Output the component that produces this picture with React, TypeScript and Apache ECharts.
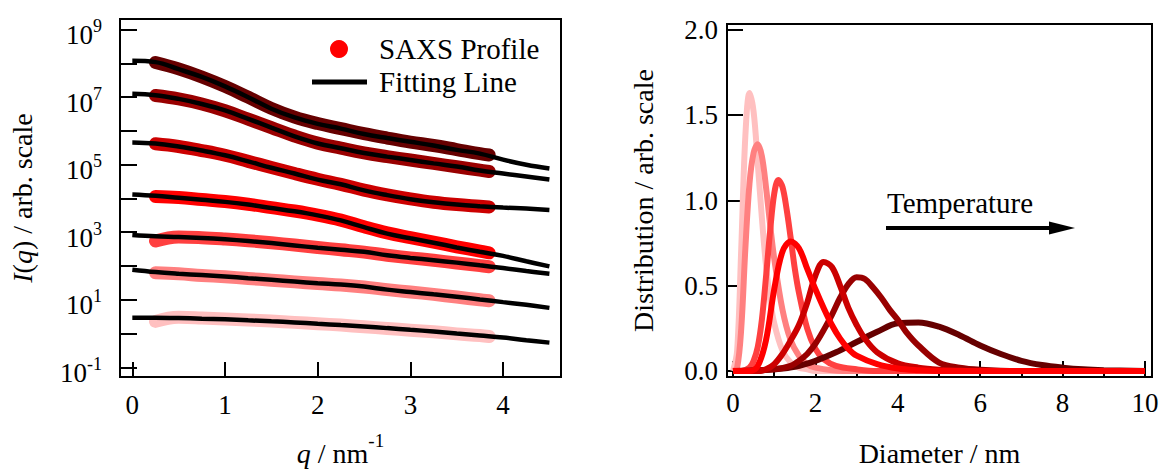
import React, { useEffect, useRef } from "react";
import * as echarts from "echarts";

const FONT = "'Liberation Serif', 'Times New Roman', Times, serif";

// ---------- Left panel: SAXS profiles (values are log10 I(q)) ----------
const qFit = [0, 0.25, 0.5, 0.75, 1.0, 1.25, 1.5, 1.75, 2.0, 2.25, 2.5, 2.75, 3.0, 3.25, 3.5, 3.75, 4.0, 4.25, 4.5];
const fitLogA = [8.08, 8.04, 7.83, 7.6, 7.32, 7.0, 6.66, 6.4, 6.21, 6.07, 5.91, 5.79, 5.68, 5.57, 5.44, 5.33, 5.15, 5.0, 4.89];
const fitLogB = [7.1, 7.06, 6.95, 6.8, 6.61, 6.36, 6.1, 5.84, 5.63, 5.49, 5.35, 5.24, 5.14, 5.04, 4.95, 4.83, 4.74, 4.65, 4.56];
const fitLogC = [5.66, 5.63, 5.54, 5.42, 5.28, 5.1, 4.91, 4.74, 4.56, 4.42, 4.24, 4.1, 3.98, 3.89, 3.82, 3.77, 3.73, 3.7, 3.66];
const fitLogD = [4.12, 4.08, 4.02, 3.96, 3.9, 3.82, 3.72, 3.62, 3.5, 3.35, 3.15, 2.96, 2.82, 2.69, 2.55, 2.42, 2.3, 2.14, 1.99];
const fitLogE = [2.92, 2.88, 2.86, 2.83, 2.79, 2.74, 2.68, 2.61, 2.54, 2.48, 2.42, 2.32, 2.24, 2.17, 2.1, 2.02, 1.94, 1.85, 1.77];
const fitLogF = [1.89, 1.82, 1.77, 1.73, 1.69, 1.64, 1.59, 1.54, 1.49, 1.45, 1.39, 1.3, 1.23, 1.16, 1.09, 1.01, 0.93, 0.85, 0.76];
const fitLogG = [0.47, 0.47, 0.46, 0.44, 0.42, 0.39, 0.36, 0.33, 0.29, 0.25, 0.21, 0.16, 0.11, 0.06, 0.0, -0.06, -0.12, -0.2, -0.27];

const qData = [0.25, 0.5, 0.75, 1.0, 1.25, 1.5, 1.75, 2.0, 2.25, 2.5, 2.75, 3.0, 3.25, 3.5, 3.75, 3.85];
const dataLogA = [8.03, 7.84, 7.6, 7.32, 7.0, 6.67, 6.41, 6.22, 6.07, 5.92, 5.79, 5.67, 5.57, 5.45, 5.33, 5.29];
const dataLogB = [7.05, 6.95, 6.8, 6.6, 6.35, 6.1, 5.85, 5.64, 5.49, 5.35, 5.24, 5.14, 5.04, 4.94, 4.84, 4.8];
const dataLogC = [5.62, 5.54, 5.42, 5.28, 5.1, 4.92, 4.74, 4.57, 4.42, 4.25, 4.11, 3.99, 3.89, 3.82, 3.77, 3.75];
const dataLogD = [4.06, 4.03, 3.97, 3.91, 3.83, 3.73, 3.63, 3.51, 3.36, 3.16, 2.98, 2.84, 2.71, 2.57, 2.44, 2.39];
const dataLogE = [2.74, 2.86, 2.84, 2.8, 2.75, 2.69, 2.62, 2.55, 2.48, 2.41, 2.32, 2.24, 2.17, 2.09, 2.01, 1.98];
const dataLogF = [1.8, 1.77, 1.72, 1.68, 1.63, 1.58, 1.53, 1.48, 1.44, 1.38, 1.3, 1.23, 1.16, 1.08, 1.0, 0.97];
const dataLogG = [0.36, 0.48, 0.46, 0.43, 0.4, 0.37, 0.33, 0.29, 0.25, 0.2, 0.15, 0.1, 0.05, -0.01, -0.06, -0.09];

const saxsColors = ["#660000", "#990000", "#cc0000", "#ff0000", "#ff4040", "#ff8080", "#ffc0c0"];
const fitSets = [fitLogA, fitLogB, fitLogC, fitLogD, fitLogE, fitLogF, fitLogG];
const dataSets = [dataLogA, dataLogB, dataLogC, dataLogD, dataLogE, dataLogF, dataLogG];

const leftYTicks = [-1, 0, 1, 2, 3, 4, 5, 6, 7, 8, 9];
const leftYLabels = [-1, 1, 3, 5, 7, 9];
const leftXTicks = [0, 1, 2, 3, 4];

// ---------- Right panel: size distributions ----------
const diam1 = [0, 0.1, 0.2, 0.3, 0.4, 0.5, 0.6, 0.7, 0.8, 0.9, 1.0, 1.2, 1.4, 1.6, 1.8, 2.0, 2.5, 3, 10];
const dist1 = [0, 0.12, 0.72, 1.38, 1.63, 1.52, 1.22, 0.9, 0.62, 0.42, 0.28, 0.12, 0.05, 0.02, 0.01, 0, 0, 0, 0];
const diam2 = [0, 0.1, 0.2, 0.3, 0.4, 0.5, 0.6, 0.7, 0.8, 0.9, 1.0, 1.2, 1.4, 1.6, 1.8, 2.0, 2.4, 3, 10];
const dist2 = [0, 0.02, 0.25, 0.72, 1.1, 1.28, 1.33, 1.26, 1.08, 0.86, 0.66, 0.36, 0.18, 0.09, 0.04, 0.02, 0.005, 0, 0];
const diam3 = [0, 0.2, 0.4, 0.5, 0.6, 0.7, 0.8, 0.9, 1.0, 1.1, 1.2, 1.3, 1.4, 1.5, 1.6, 1.8, 2.0, 2.2, 2.5, 3, 3.5, 10];
const dist3 = [0, 0, 0.02, 0.06, 0.14, 0.3, 0.55, 0.82, 1.04, 1.12, 1.08, 0.95, 0.78, 0.6, 0.46, 0.25, 0.13, 0.07, 0.03, 0.01, 0, 0];
const diam4 = [0, 0.4, 0.6, 0.8, 1.0, 1.2, 1.4, 1.6, 1.8, 2.0, 2.2, 2.4, 2.6, 2.8, 3.0, 3.5, 4, 4.5, 5, 10];
const dist4 = [0, 0, 0.03, 0.18, 0.48, 0.7, 0.76, 0.72, 0.6, 0.48, 0.37, 0.27, 0.19, 0.13, 0.09, 0.04, 0.015, 0.005, 0, 0];
const diam5 = [0, 0.6, 0.8, 1.0, 1.2, 1.4, 1.6, 1.8, 2.0, 2.2, 2.4, 2.6, 2.8, 3.0, 3.2, 3.5, 4, 4.5, 5, 5.5, 6, 10];
const dist5 = [0, 0, 0.01, 0.04, 0.1, 0.18, 0.27, 0.4, 0.56, 0.64, 0.61, 0.5, 0.37, 0.27, 0.19, 0.11, 0.045, 0.02, 0.008, 0.003, 0, 0];
const diam6 = [0, 1.0, 1.4, 1.6, 1.8, 2.0, 2.2, 2.4, 2.6, 2.8, 3.0, 3.2, 3.4, 3.6, 3.8, 4.0, 4.2, 4.5, 5.0, 5.5, 6, 7, 10];
const dist6 = [0, 0.01, 0.03, 0.06, 0.1, 0.16, 0.24, 0.33, 0.43, 0.51, 0.55, 0.54, 0.49, 0.43, 0.36, 0.3, 0.23, 0.15, 0.05, 0.02, 0.008, 0, 0];
const diam7 = [0, 0.5, 1.0, 1.5, 2.0, 2.5, 3.0, 3.5, 4.0, 4.5, 5.0, 5.5, 6.0, 6.5, 7.0, 7.5, 8.0, 8.5, 9, 10];
const dist7 = [0, 0.002, 0.01, 0.025, 0.06, 0.11, 0.17, 0.23, 0.28, 0.285, 0.26, 0.21, 0.15, 0.1, 0.06, 0.035, 0.02, 0.01, 0.005, 0];

const distColors = ["#ffc0c0", "#ff8080", "#ff4040", "#ff0000", "#cc0000", "#990000", "#660000"];
const distX = [diam1, diam2, diam3, diam4, diam5, diam6, diam7];
const distY = [dist1, dist2, dist3, dist4, dist5, dist6, dist7];
const drawOrder = [0, 1, 2, 6, 5, 4, 3];

const rightXMajor = [0, 2, 4, 6, 8, 10];
const rightXMinor = [1, 3, 5, 7, 9];
const rightYTicks = [0, 0.5, 1.0, 1.5, 2.0];

export default function App() {
  const ref = useRef<HTMLDivElement | null>(null);

  useEffect(() => {
    if (!ref.current) return;
    const chart = echarts.init(ref.current, null, { renderer: "svg" });

    const tickLabel = { fontFamily: FONT, fontSize: 27, color: "#000" };
    const titleStyle = { fontFamily: FONT, fontSize: 28, color: "#000" };
    const noLine = { show: false, onZero: false };

    const series: any[] = [];
    dataSets.forEach((d, i) => {
      series.push({
        type: "line",
        name: "SAXS Profile",
        xAxisIndex: 0,
        yAxisIndex: 0,
        data: qData.map((q, j) => [q, d[j]]),
        smooth: 0.4,
        symbol: "none",
        lineStyle: { color: saxsColors[i], width: 13, cap: "round", join: "round" },
        z: 2,
      });
    });
    fitSets.forEach((d) => {
      series.push({
        type: "line",
        name: "Fitting Line",
        xAxisIndex: 0,
        yAxisIndex: 0,
        data: qFit.map((q, j) => [q, d[j]]),
        smooth: 0.4,
        symbol: "none",
        lineStyle: { color: "#000", width: 4.5 },
        z: 3,
      });
    });
    drawOrder.forEach((i) => {
      series.push({
        type: "line",
        name: "Distribution " + (i + 1),
        xAxisIndex: 1,
        yAxisIndex: 1,
        data: distX[i].map((x, j) => [x, distY[i][j]]),
        smooth: 0.35,
        symbol: "none",
        lineStyle: { color: distColors[i], width: 6 },
        z: 2,
      });
    });

    const option: any = {
      animation: false,
      grid: [
        { left: 120, top: 19, width: 441, height: 368, show: true, borderColor: "#000", borderWidth: 2, backgroundColor: "transparent" },
        { left: 727, top: 24, width: 425, height: 356, show: true, borderColor: "#000", borderWidth: 2, backgroundColor: "transparent" },
      ],
      xAxis: [
        {
          gridIndex: 0,
          type: "value",
          position: "bottom",
          min: -0.133,
          max: 4.625,
          axisLine: noLine,
          splitLine: { show: false },
          axisTick: { inside: true, length: 15, lineStyle: { color: "#000", width: 2 }, customValues: leftXTicks },
          axisLabel: { ...tickLabel, margin: 14, customValues: leftXTicks },
          name: "{i|q}{n| / nm}{s|-1}",
          nameLocation: "middle",
          nameGap: 50,
          nameTextStyle: {
            ...titleStyle,
            rich: {
              i: { ...titleStyle, fontStyle: "italic", lineHeight: 40, verticalAlign: "bottom" },
              n: { ...titleStyle, lineHeight: 40, verticalAlign: "bottom" },
              s: { fontFamily: FONT, fontSize: 19, color: "#000", lineHeight: 40, verticalAlign: "top", padding: [4, 0, 0, 0] },
            },
          },
        },
        {
          gridIndex: 1,
          type: "value",
          position: "bottom",
          min: -0.146,
          max: 10.17,
          axisLine: noLine,
          splitLine: { show: false },
          axisTick: { inside: true, length: 16, lineStyle: { color: "#000", width: 2 }, customValues: rightXMajor },
          axisLabel: { ...tickLabel, margin: 12, customValues: rightXMajor },
          name: "Diameter / nm",
          nameLocation: "middle",
          nameGap: 62,
          nameTextStyle: titleStyle,
        },
        {
          gridIndex: 1,
          type: "value",
          position: "bottom",
          min: -0.146,
          max: 10.17,
          axisLine: noLine,
          splitLine: { show: false },
          axisTick: { inside: true, length: 6, lineStyle: { color: "#000", width: 2 }, customValues: rightXMinor },
          axisLabel: { show: false },
        },
      ],
      yAxis: [
        {
          gridIndex: 0,
          type: "value",
          position: "left",
          min: -1.288,
          max: 9.317,
          axisLine: noLine,
          splitLine: { show: false },
          axisTick: { inside: true, length: 17, lineStyle: { color: "#000", width: 2 }, customValues: leftYTicks },
          axisLabel: {
            margin: 18,
            customValues: leftYLabels,
            formatter: (v: number) => "{b|10}{s|" + Math.round(v) + "}",
            rich: {
              b: { fontFamily: FONT, fontSize: 27, color: "#000", lineHeight: 38, verticalAlign: "bottom" },
              s: { fontFamily: FONT, fontSize: 18, color: "#000", lineHeight: 38, verticalAlign: "middle", padding: [0, 0, 7, 0] },
            },
          },
          name: "{i|I}{n|(}{i|q}{n|) / arb. scale}",
          nameLocation: "middle",
          nameRotate: 90,
          nameGap: 84,
          nameTextStyle: {
            ...titleStyle,
            rich: {
              i: { ...titleStyle, fontStyle: "italic" },
              n: { ...titleStyle },
            },
          },
        },
        {
          gridIndex: 1,
          type: "value",
          position: "left",
          min: -0.0349,
          max: 2.0349,
          axisLine: noLine,
          splitLine: { show: false },
          axisTick: { inside: true, length: 16, lineStyle: { color: "#000", width: 2 }, customValues: rightYTicks },
          axisLabel: { ...tickLabel, margin: 9, customValues: rightYTicks, formatter: (v: number) => v.toFixed(1) },
          name: "Distribution / arb. scale",
          nameLocation: "middle",
          nameRotate: 90,
          nameGap: 70,
          nameTextStyle: titleStyle,
        },
      ],
      graphic: [
        { type: "circle", shape: { cx: 339, cy: 49, r: 9 }, style: { fill: "#ff0000" }, z: 10 },
        { type: "line", shape: { x1: 312, y1: 82, x2: 367, y2: 82 }, style: { stroke: "#000", lineWidth: 5 }, z: 10 },
        {
          type: "text", x: 379, y: 49, z: 10,
          style: { text: "SAXS Profile", font: "29px " + FONT, fill: "#000", textAlign: "left", textVerticalAlign: "middle", align: "left", verticalAlign: "middle" },
        },
        {
          type: "text", x: 379, y: 82, z: 10,
          style: { text: "Fitting Line", font: "29px " + FONT, fill: "#000", textAlign: "left", textVerticalAlign: "middle", align: "left", verticalAlign: "middle" },
        },
        {
          type: "text", x: 887, y: 203, z: 10,
          style: { text: "Temperature", font: "29px " + FONT, fill: "#000", textAlign: "left", textVerticalAlign: "middle", align: "left", verticalAlign: "middle" },
        },
        { type: "line", shape: { x1: 886, y1: 228, x2: 1052, y2: 228 }, style: { stroke: "#000", lineWidth: 4 }, z: 10 },
        { type: "polygon", shape: { points: [[1049, 221.5], [1075, 228], [1049, 234.5]] }, style: { fill: "#000" }, z: 10 },
      ],
      series,
    };

    chart.setOption(option);
    return () => chart.dispose();
  }, []);

  return <div ref={ref} style={{ position: "absolute", left: 0, top: 0, width: 1163, height: 472 }} />;
}
